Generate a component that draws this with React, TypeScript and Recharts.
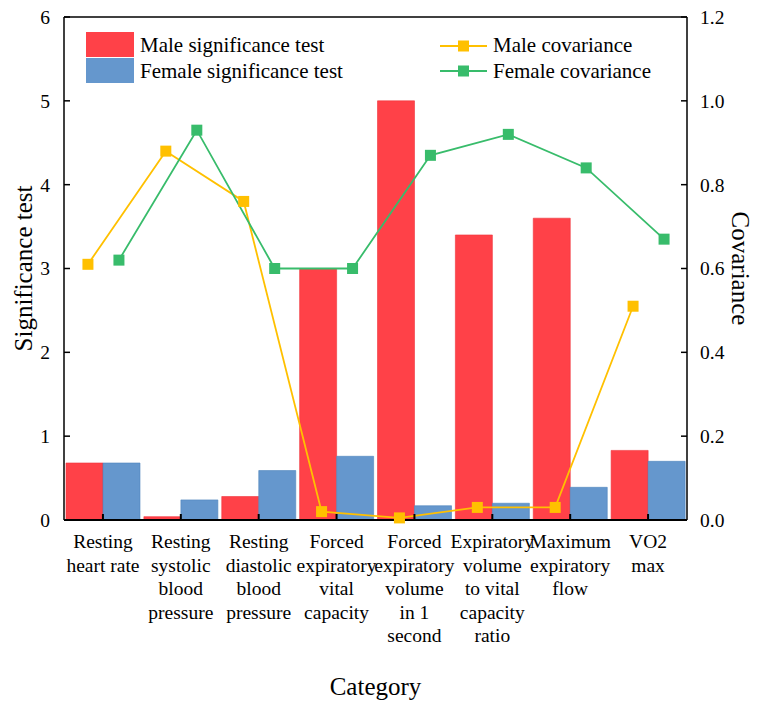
import React from "react";
import {
  ComposedChart,
  Bar,
  Line,
  XAxis,
  YAxis,
  Legend,
  ReferenceLine,
} from "recharts";

// indicators on the x axis, and how each label wraps
const categories = [
  "Resting heart rate",
  "Resting systolic blood pressure",
  "Resting diastolic blood pressure",
  "Forced expiratory vital capacity",
  "Forced expiratory volume in 1 second",
  "Expiratory volume to vital capacity ratio",
  "Maximum expiratory flow",
  "VO2 max",
];
const categoryLines = [
  ["Resting", "heart rate"],
  ["Resting", "systolic", "blood", "pressure"],
  ["Resting", "diastolic", "blood", "pressure"],
  ["Forced", "expiratory", "vital", "capacity"],
  ["Forced", "expiratory", "volume", "in 1", "second"],
  ["Expiratory", "volume", "to vital", "capacity", "ratio"],
  ["Maximum", "expiratory", "flow"],
  ["VO2", "max"],
];

const maleSignificance = [0.68, 0.04, 0.28, 3.0, 5.0, 3.4, 3.6, 0.83];
const femaleSignificance = [0.68, 0.24, 0.59, 0.76, 0.17, 0.2, 0.39, 0.7];
const maleCovariance = [0.61, 0.88, 0.76, 0.02, 0.005, 0.03, 0.03, 0.51];
const femaleCovariance = [0.62, 0.93, 0.6, 0.6, 0.87, 0.92, 0.84, 0.67];

const significanceTicks = [0, 1, 2, 3, 4, 5, 6];
const covarianceTicks = [0, 0.2, 0.4, 0.6, 0.8, 1.0, 1.2];

const seriesNames = [
  "Male significance test",
  "Female significance test",
  "Male covariance",
  "Female covariance",
];

const data = categories.map((category, i) => ({
  category,
  maleSig: maleSignificance[i],
  femaleSig: femaleSignificance[i],
  maleCov: maleCovariance[i],
  femaleCov: femaleCovariance[i],
}));

const FONT = "Times New Roman, Liberation Serif, serif";
const INK = "#000";
const RED = "#FF4148";
const BLUE = "#6597CD";
const ORANGE = "#FFC000";
const GREEN = "#38BC6B";

const CategoryTick = (props: any) => {
  const { x, y, payload } = props;
  const lines = categoryLines[categories.indexOf(payload.value)] || [payload.value];
  return (
    <text
      x={x}
      y={y}
      textAnchor="middle"
      style={{ fontFamily: FONT, fontSize: 19.5 }}
      fill={INK}
    >
      {lines.map((line, k) => (
        <tspan key={k} x={x} y={y + k * 23.5}>
          {line}
        </tspan>
      ))}
    </text>
  );
};

const squareDot = (color: string) => (props: any) => {
  const { cx, cy, index } = props;
  if (cx == null || cy == null) return <g key={index} />;
  return <rect key={index} x={cx - 5.5} y={cy - 5.5} width={11} height={11} fill={color} />;
};

const renderLegend = (props: any) => {
  const items = [...(props.payload || [])].sort(
    (a: any, b: any) => seriesNames.indexOf(a.value) - seriesNames.indexOf(b.value)
  );
  const bars = items.filter((p: any) => p.type === "rect");
  const lines = items.filter((p: any) => p.type === "line");
  const textStyle = { fontFamily: FONT, fontSize: 21 };
  return (
    <svg width={757} height={100} style={{ display: "block" }}>
      {bars.map((p: any, i: number) => (
        <g key={"b" + i}>
          <rect x={86} y={32 + i * 26} width={48} height={25} fill={p.color} />
          <text x={140} y={52 + i * 26} style={textStyle} fill={INK}>
            {p.value}
          </text>
        </g>
      ))}
      {lines.map((p: any, i: number) => (
        <g key={"l" + i}>
          <line x1={440} x2={487} y1={46 + i * 25} y2={46 + i * 25} stroke={p.color} strokeWidth={2} />
          <rect x={458} y={40.5 + i * 25} width={11} height={11} fill={p.color} />
          <text x={493} y={52 + i * 26} style={textStyle} fill={INK}>
            {p.value}
          </text>
        </g>
      ))}
    </svg>
  );
};

const axisTitle = (text: string, x: number, angle: number) => ({ viewBox }: any) => {
  const cy = viewBox.y + viewBox.height / 2;
  return (
    <text
      x={x}
      y={cy}
      transform={`rotate(${angle}, ${x}, ${cy})`}
      textAnchor="middle"
      style={{ fontFamily: FONT, fontSize: 25 }}
      fill={INK}
    >
      {text}
    </text>
  );
};

export default function App() {
  const tickStyle = { fontFamily: FONT, fontSize: 19.5, fill: INK };
  return (
    <div style={{ position: "absolute", top: 0, left: 0, background: "#fff" }}>
      <ComposedChart
        width={757}
        height={704}
        data={data}
        barGap={0}
        margin={{ top: 17, right: 0, bottom: 0, left: 0 }}
        style={{ fontFamily: FONT }}
      >
        <XAxis
          xAxisId="cat"
          dataKey="category"
          height={184}
          interval={0}
          tickSize={-6}
          tickMargin={34}
          tick={<CategoryTick />}
          axisLine={{ stroke: "#000", strokeWidth: 2 }}
          tickLine={{ stroke: "#000", strokeWidth: 2 }}
          label={{
            content: ({ viewBox }: any) => (
              <text
                x={viewBox.x + viewBox.width / 2}
                y={viewBox.y + 175}
                textAnchor="middle"
                style={{ fontFamily: FONT, fontSize: 25 }}
                fill={INK}
              >
                Category
              </text>
            ),
          }}
        />
        {/* shifted copies of the category scale so the points sit near their bars */}
        <XAxis xAxisId="maleCov" dataKey="category" hide padding={{ left: -15, right: 15 }} />
        <XAxis xAxisId="femaleCov" dataKey="category" hide padding={{ left: 16, right: -16 }} />
        <YAxis
          yAxisId="sig"
          domain={[0, 6]}
          ticks={significanceTicks}
          width={64}
          tickSize={-6}
          tickMargin={20}
          tick={tickStyle}
          axisLine={{ stroke: "#000", strokeWidth: 1.5 }}
          tickLine={{ stroke: "#000", strokeWidth: 1.5 }}
          label={{ content: axisTitle("Significance test", 32, -90) }}
        />
        <YAxis
          yAxisId="cov"
          orientation="right"
          domain={[0, 1.2]}
          ticks={covarianceTicks}
          width={70}
          tickSize={-6}
          tickMargin={19}
          tick={{ ...tickStyle, textAnchor: "start" }}
          tickFormatter={(v: number) => v.toFixed(1)}
          axisLine={{ stroke: "#000", strokeWidth: 1.5 }}
          tickLine={{ stroke: "#000", strokeWidth: 1.5 }}
          label={{ content: axisTitle("Covariance", 732, 90) }}
        />
        <ReferenceLine yAxisId="sig" xAxisId="cat" y={6} stroke="#000" strokeWidth={1.5} />
        <Legend
          layout="vertical"
          align="center"
          verticalAlign="middle"
          wrapperStyle={{ top: 0, left: 0, width: 757, height: 100 }}
          content={renderLegend}
        />
        <Bar
          xAxisId="cat"
          yAxisId="sig"
          dataKey="maleSig"
          name={seriesNames[0]}
          legendType="rect"
          fill={RED}
          stroke="#F0343B"
          strokeWidth={0.6}
          barSize={37}
          isAnimationActive={false}
        />
        <Bar
          xAxisId="cat"
          yAxisId="sig"
          dataKey="femaleSig"
          name={seriesNames[1]}
          legendType="rect"
          fill={BLUE}
          stroke="#4F84BE"
          strokeWidth={0.6}
          barSize={37}
          isAnimationActive={false}
        />
        <Line
          xAxisId="maleCov"
          yAxisId="cov"
          dataKey="maleCov"
          name={seriesNames[2]}
          legendType="line"
          stroke={ORANGE}
          strokeWidth={1.8}
          dot={squareDot(ORANGE)}
          activeDot={false}
          isAnimationActive={false}
        />
        <Line
          xAxisId="femaleCov"
          yAxisId="cov"
          dataKey="femaleCov"
          name={seriesNames[3]}
          legendType="line"
          stroke={GREEN}
          strokeWidth={1.8}
          dot={squareDot(GREEN)}
          activeDot={false}
          isAnimationActive={false}
        />
      </ComposedChart>
    </div>
  );
}
